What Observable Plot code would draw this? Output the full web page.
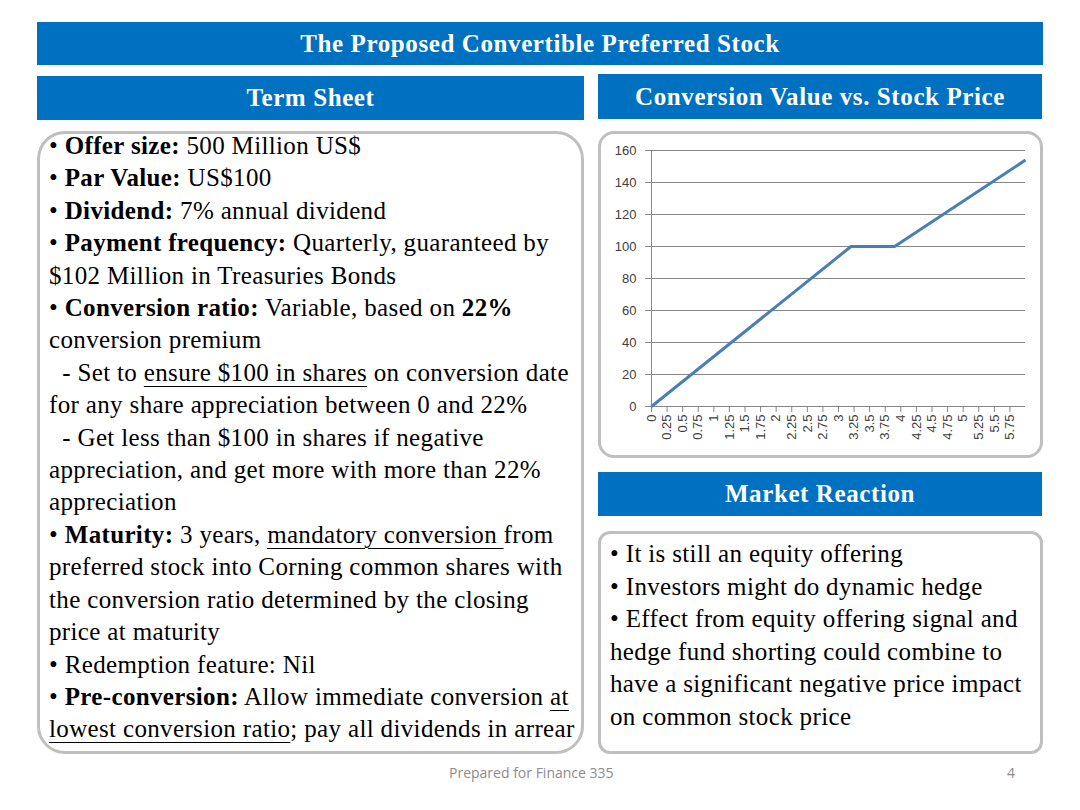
<!DOCTYPE html>
<html>
<head>
<meta charset="utf-8">
<script src="https://cdn.jsdelivr.net/npm/d3@7"></script>
<script src="https://cdn.jsdelivr.net/npm/@observablehq/plot@0.6"></script>
<style>
  html, body { margin: 0; padding: 0; background: #fff; }
  #page { position: relative; width: 1080px; height: 810px; overflow: hidden; background: #fff; }
  .bar { position: absolute; background: #0070C0; color: #fff; font-family: "Liberation Serif", serif; font-weight: bold;
         font-size: 25px; letter-spacing: 0.6px; display: flex; align-items: center; justify-content: center; }
  .box { position: absolute; border: 3px solid #BFBFBF; box-sizing: border-box; background: #fff; }
  .txt { position: absolute; font-family: "Liberation Serif", serif; color: #000; font-size: 25px; letter-spacing: 0.35px; line-height: 32.4px; white-space: nowrap; }
  .txt b { font-weight: bold; }
  .txt u { text-decoration: underline; text-underline-offset: 5px; text-decoration-thickness: 1px; }
  #chart { position: absolute; left: 600px; top: 135px; }
  .foot { position: absolute; font-family: "Open Sans", sans-serif; font-size: 14px; color: #8C8C8C; }
</style>
</head>
<body>
<div id="page">
  <div class="bar" style="left:37px;top:22px;width:1006px;height:43px;">The Proposed Convertible Preferred Stock</div>
  <div class="bar" style="left:37px;top:76px;width:547px;height:44px;">Term Sheet</div>
  <div class="bar" style="left:598px;top:74px;width:444px;height:45px;">Conversion Value vs. Stock Price</div>
  <div class="bar" style="left:598px;top:472px;width:444px;height:44px;">Market Reaction</div>

  <div class="box" style="left:37px;top:131px;width:547px;height:623px;border-radius:28px;"></div>
  <div class="box" style="left:598px;top:131px;width:445px;height:327px;border-radius:16px;"></div>
  <div class="box" style="left:598px;top:531px;width:445px;height:223px;border-radius:12px;"></div>

  <div class="txt" style="left:49px;top:130px;">
    • <b>Offer size:</b> 500 Million US$<br>
    • <b>Par Value:</b> US$100<br>
    • <b>Dividend:</b> 7% annual dividend<br>
    • <b>Payment frequency:</b> Quarterly, guaranteed by<br>
    $102 Million in Treasuries Bonds<br>
    • <b>Conversion ratio:</b> Variable, based on <b>22%</b><br>
    conversion premium<br>
    &nbsp;&nbsp;- Set to <u>ensure $100 in shares</u> on conversion date<br>
    for any share appreciation between 0 and 22%<br>
    &nbsp;&nbsp;- Get less than $100 in shares if negative<br>
    appreciation, and get more with more than 22%<br>
    appreciation<br>
    • <b>Maturity:</b> 3 years, <u>mandatory conversion </u>from<br>
    preferred stock into Corning common shares with<br>
    the conversion ratio determined by the closing<br>
    price at maturity<br>
    • Redemption feature: Nil<br>
    • <b>Pre-conversion:</b> Allow immediate conversion <u>at</u><br>
    <u>lowest conversion ratio</u>; pay all dividends in arrear
  </div>

  <div class="txt" style="left:610px;top:538px;line-height:32.6px;">
    • It is still an equity offering<br>
    • Investors might do dynamic hedge<br>
    • Effect from equity offering signal and<br>
    hedge fund shorting could combine to<br>
    have a significant negative price impact<br>
    on common stock price
  </div>

  <div id="chart"></div>

  <div class="foot" style="left:449px;top:763px;">Prepared for Finance 335</div>
  <div class="foot" style="left:1007px;top:763px;">4</div>
</div>
<script>
// Conversion value of the preferred vs. the common stock price
const stockPrice = [0, 3.2, 3.9, 6];
const conversionValue = [0, 100, 100, 154];
const xTickValues = [0, 0.25, 0.5, 0.75, 1, 1.25, 1.5, 1.75, 2, 2.25, 2.5, 2.75, 3, 3.25, 3.5, 3.75, 4, 4.25, 4.5, 4.75, 5, 5.25, 5.5, 5.75];
const xTickLabels = ["0", "0.25", "0.5", "0.75", "1", "1.25", "1.5", "1.75", "2", "2.25", "2.5", "2.75", "3", "3.25", "3.5", "3.75", "4", "4.25", "4.5", "4.75", "5", "5.25", "5.5", "5.75"];
const yTickValues = [0, 20, 40, 60, 80, 100, 120, 140, 160];
const yTickLabels = ["0", "20", "40", "60", "80", "100", "120", "140", "160"];

const points = stockPrice.map((x, i) => ({x, y: conversionValue[i]}));

const chart = Plot.plot({
  width: 440,
  height: 315,
  marginLeft: 51,
  marginRight: 15,
  marginTop: 15,
  marginBottom: 44,
  style: {fontFamily: "'Liberation Sans', sans-serif", fontSize: "13px", color: "#404040", background: "transparent", overflow: "visible"},
  x: {domain: [0, 6], label: null},
  y: {domain: [0, 160], label: null},
  marks: [
    Plot.ruleY(yTickValues, {stroke: "#868686", strokeWidth: 1}),
    Plot.ruleX([0], {stroke: "#868686", strokeWidth: 1}),
    Plot.axisY({ticks: yTickValues, tickFormat: (d, i) => yTickLabels[i], tickSize: 6, tickPadding: 9, stroke: "#868686", fill: "#404040", fontSize: 13, label: null}),
    Plot.axisX({ticks: xTickValues, tickFormat: (d, i) => xTickLabels[i], tickRotate: -90, tickSize: 6, tickPadding: 2, stroke: "#868686", fill: "#404040", fontSize: 13, label: null}),
    Plot.line(points, {x: "x", y: "y", stroke: "#4A7EBB", strokeWidth: 3, strokeLinejoin: "miter", strokeLinecap: "butt"})
  ]
});
document.getElementById("chart").appendChild(chart);
</script>
</body>
</html>
